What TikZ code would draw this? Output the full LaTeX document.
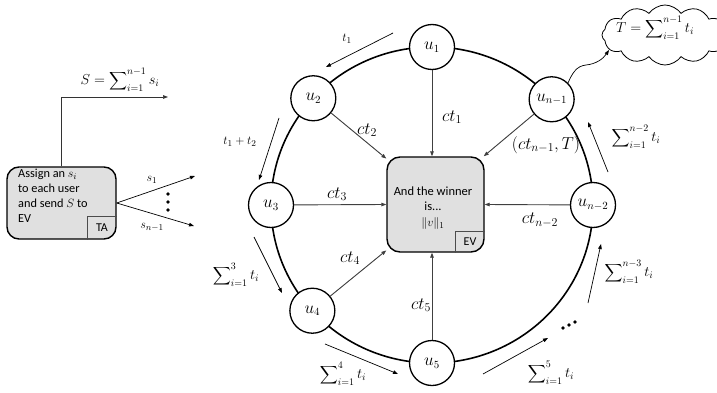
\documentclass[tikz,border=0pt]{standalone}
\usepackage{fontspec}
\setmainfont{Carlito}
\usetikzlibrary{arrows.meta,shapes.symbols,calc}
\newcommand{\bigS}[3]{\displaystyle\mathop{\vcenter{\hbox{\scalebox{1.25}{$\displaystyle\sum$}}}}\nolimits_{#1}^{#2}#3}
\begin{document}
\begin{tikzpicture}[x=1pt,y=1pt,
  unode/.style={circle,draw,line width=1.3pt,fill=white,minimum size=45pt,inner sep=0pt,font=\fontsize{16}{16}\selectfont},
  tarr/.style={-{Triangle[length=5pt,width=3.6pt]},line width=0.7pt},
  carr/.style={-{Triangle[length=5pt,width=3.6pt]},line width=0.9pt,draw=black!75,fill=black!75},
  lbl/.style={font=\fontsize{16.5}{16.5}\selectfont,inner sep=0pt},
  slbl/.style={font=\fontsize{13}{13}\selectfont,inner sep=0pt},
  sumlbl/.style={font=\fontsize{14}{14}\selectfont,inner sep=0pt},
  boxst/.style={draw,line width=1.4pt,fill=black!12,rounded corners=13pt},
  tagst/.style={inner sep=0pt,font=\fontsize{12}{12}\selectfont},
  dotst/.style={circle,fill,inner sep=0pt,minimum size=3.6pt},
]
\useasboundingbox (0,0) rectangle (717,392);
\coordinate (C) at (432,187);
\draw[line width=1.6pt] (C) ellipse [x radius=161pt, y radius=158pt];

% users
\node[unode] (u1)  at ($(C)+(90:161pt and 158pt)$) {$u_1$};
\node[unode] (u2)  at ($(C)+(137.5:161pt and 158pt)$) {$u_2$};
\node[unode] (u3)  at ($(C)+(180:161pt and 158pt)$) {$u_3$};
\node[unode] (u4)  at ($(C)+(222:161pt and 158pt)$) {$u_4$};
\node[unode] (u5)  at ($(C)+(270:161pt and 158pt)$) {$u_5$};
\node[unode] (un2) at ($(C)+(0:161pt and 158pt)$) {$u_{n-2}$};
\node[unode] (un1) at ($(C)+(42:161pt and 158pt)$) {$u_{n-1}$};

% EV box
\node[boxst,minimum width=97pt,minimum height=95pt] (ev) at (435.5,187.5) {};
\node[align=center,font=\fontsize{12.5}{15.5}\selectfont] (evtxt) at (433,184) {And the winner\\is...\\$\|v\|_1$};
\node[tagst,anchor=south east,minimum width=29pt,minimum height=21pt] (evtag) at (ev.south east) {EV};
\draw[line width=1pt,draw=black!70] (evtag.south west) |- (evtag.north east);

% TA box
\node[boxst,rounded corners=12pt,minimum width=109pt,minimum height=72pt] (ta) at (61.5,189) {};
\node[align=left,anchor=north west,font=\fontsize{12.3}{15}\selectfont,inner sep=0pt] (tatxt) at (18,223) {Assign an $s_i$\\to each user\\and send $S$ to\\EV};
\node[tagst,anchor=south east,minimum width=29pt,minimum height=23pt] (tatag) at (ta.south east) {TA};
\draw[line width=1pt,draw=black!70] (tatag.south west) |- (tatag.north east);

% TA outputs
\coordinate (Send) at (168,295);
\draw[tarr,draw=black!80] (ta.north) |- (Send);
\node[sumlbl] (Slbl) at (120,312) {$S=\bigS{i=1}{n-1}{s_i}$};
\coordinate (s1e) at (195,216);
\coordinate (sne) at (194,166);
\draw[tarr] (ta.east) -- (s1e);
\draw[tarr] (ta.east) -- (sne);
\node[slbl] (s1l) at (152,212) {$s_1$};
\node[slbl] (snl) at (152,165) {$s_{n-1}$};
\node[dotst] (d1) at (168,198) {};
\node[dotst] (d2) at (168,190) {};
\node[dotst] (d3) at (168,182) {};

% ciphertext arrows
\draw[carr] (u1) -- (ev.north -| u1);
\draw[carr] (u2) -- (ev.137);
\draw[carr] (u3) -- (ev.west);
\draw[carr] (u4) -- (ev.223);
\draw[carr] (u5) -- (ev.south -| u5);
\draw[carr] (un2) -- (ev.east);
\draw[carr] (un1) -- (ev.45);
\node[lbl] (c1) at (452,275) {$ct_1$};
\node[lbl] (c2) at (367,262) {$ct_2$};
\node[lbl] (c3) at (337,198) {$ct_3$};
\node[lbl] (c4) at (350,134) {$ct_4$};
\node[lbl] (c5) at (421,87) {$ct_5$};
\node[lbl] (cn2) at (540,172) {$ct_{n-2}$};
\node[lbl] (cn1) at (546,247) {$(ct_{n-1},T)$};

% token passing arrows
\coordinate (a1s) at (393,359); \coordinate (a1e) at (326,325);
\coordinate (a2s) at (279,274); \coordinate (a2e) at (259,212);
\coordinate (a3s) at (254,155); \coordinate (a3e) at (282,99);
\coordinate (a4s) at (325,48);  \coordinate (a4e) at (398,18);
\coordinate (a5s) at (483,18);  \coordinate (a5e) at (548,54);
\coordinate (a6s) at (588,89);  \coordinate (a6e) at (601,148);
\coordinate (a7s) at (608,220); \coordinate (a7e) at (588,270);
\draw[tarr] (a1s) -- (a1e);
\draw[tarr] (a2s) -- (a2e);
\draw[tarr] (a3s) -- (a3e);
\draw[tarr] (a4s) -- (a4e);
\draw[tarr] (a5s) -- (a5e);
\draw[tarr] (a6s) -- (a6e);
\draw[tarr] (a7s) -- (a7e);
\node[slbl] (l1) at (347,353) {$t_1$};
\node[slbl] (l2) at (240,250) {$t_1+t_2$};
\node[sumlbl] (l3) at (236,117) {$\bigS{i=1}{3}{t_i}$};
\node[sumlbl] (l4) at (343,18) {$\bigS{i=1}{4}{t_i}$};
\node[sumlbl] (l5) at (551,19) {$\bigS{i=1}{5}{t_i}$};
\node[sumlbl] (l6) at (629,120) {$\bigS{i=1}{n-3}{t_i}$};
\node[sumlbl] (l7) at (636,255) {$\bigS{i=1}{n-2}{t_i}$};
\node[dotst] (e1) at (563,64) {};
\node[dotst] (e2) at (569,67) {};
\node[dotst] (e3) at (575,70) {};

% cloud
\node[cloud,draw,line width=0.8pt,cloud puffs=12,cloud puff arc=110,aspect=2.1,minimum width=126pt,minimum height=60pt] (cloud) at (665,357) {};
\node[sumlbl] (Tlbl) at (655,364) {$T=\bigS{i=1}{n-1}{t_i}$};
\coordinate (ce) at (609,342);
\draw[tarr] (un1.45) .. controls (572,318) and (576,326) .. (586,327) .. controls (596,328) and (603,333) .. (ce);
\end{tikzpicture}
\end{document}
